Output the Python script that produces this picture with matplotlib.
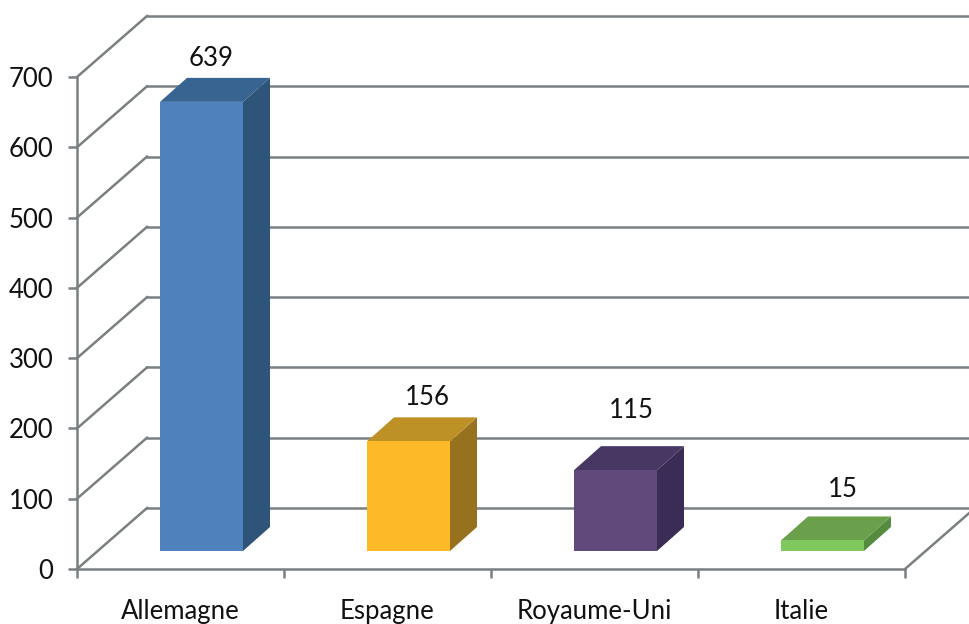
import matplotlib
matplotlib.use("Agg")
import matplotlib.pyplot as plt
from matplotlib.patches import Polygon

plt.rcParams["font.family"] = ["Lato", "DejaVu Sans"]

# Data
countries = ["Allemagne", "Espagne", "Royaume-Uni", "Italie"]
values = [639, 156, 115, 15]
y_ticks = [0, 100, 200, 300, 400, 500, 600, 700]

# Colours: front, side, top
front_colors = ["#4f81bd", "#fdb927", "#604a7b", "#80c75d"]
side_colors = ["#2f5479", "#96721f", "#3a2c55", "#558b3e"]
top_colors = ["#376491", "#bd9126", "#483763", "#6a9f4c"]

grid_color = "#7a8082"
line_w = 1.8
text_size = 18.5

# Front plane of the 3D box, in pixels
W, H = 969, 624
x0, x1, y0, y1 = 77, 905, 569, 77
px_x = (x1 - x0) / 4
px_y = (y0 - y1) / 700

# Depths converted to data units
wall_dx, wall_dy = 70 / px_x, 61 / px_y
bar_x, bar_w = 83 / px_x, 83 / px_x
bar_y = 18 / px_y
bar_dx, bar_dy = 27 / px_x, 24 / px_y

# Pixel offsets of the value labels from the bar's front top centre
label_dx = [10, 19, 16, 20]
label_dy = [43, 44, 60, 51]

fig = plt.figure(figsize=(W / 100, H / 100), dpi=100)
ax = fig.add_axes([x0 / W, (H - y0) / H, (x1 - x0) / W, (y0 - y1) / H])
ax.set_xlim(0, 4)
ax.set_ylim(0, 700)

for s in ["top", "right"]:
    ax.spines[s].set_visible(False)
for s in ["left", "bottom"]:
    ax.spines[s].set_color(grid_color)
    ax.spines[s].set_linewidth(line_w)

# Wall gridlines and diagonals
for v in y_ticks:
    ax.plot([wall_dx, 4 + wall_dx], [v + wall_dy, v + wall_dy],
            color=grid_color, lw=line_w, clip_on=False, zorder=1)
    ax.plot([0, wall_dx], [v, v + wall_dy],
            color=grid_color, lw=line_w, clip_on=False, zorder=1)
# Right edge of the floor
ax.plot([4, 4 + wall_dx], [0, wall_dy], color=grid_color, lw=line_w, clip_on=False, zorder=1)

# Bars
for i, v in enumerate(values):
    l = i + bar_x
    r = l + bar_w
    b = bar_y
    t = bar_y + v
    ax.add_patch(Polygon([(r, b), (r + bar_dx, b + bar_dy), (r + bar_dx, t + bar_dy), (r, t)],
                         fc=side_colors[i], ec="none", clip_on=False, zorder=3))
    ax.add_patch(Polygon([(l, t), (r, t), (r + bar_dx, t + bar_dy), (l + bar_dx, t + bar_dy)],
                         fc=top_colors[i], ec="none", clip_on=False, zorder=3))
    ax.add_patch(Polygon([(l, b), (r, b), (r, t), (l, t)],
                         fc=front_colors[i], ec="none", clip_on=False, zorder=4))
    ax.annotate(str(v), xy=((l + r) / 2, t), xytext=(label_dx[i] * 0.72, label_dy[i] * 0.72),
                textcoords="offset points", ha="center", va="center",
                fontsize=text_size, color="#111111", zorder=5)

ax.set_yticks(y_ticks)
ax.set_xticks(range(5))
ax.set_xticklabels([])
ax.set_xticks([i + 0.5 for i in range(4)], minor=True)
ax.set_xticklabels(countries, minor=True)
ax.tick_params(axis="both", which="major", length=6.5, width=line_w, color=grid_color)
ax.tick_params(axis="y", labelsize=text_size, pad=10.5, labelcolor="#111111")
ax.tick_params(axis="x", which="minor", length=0, labelsize=text_size, pad=21.5, labelcolor="#111111")
ax.set_zorder(2)

fig.savefig("out.png", dpi=100)
